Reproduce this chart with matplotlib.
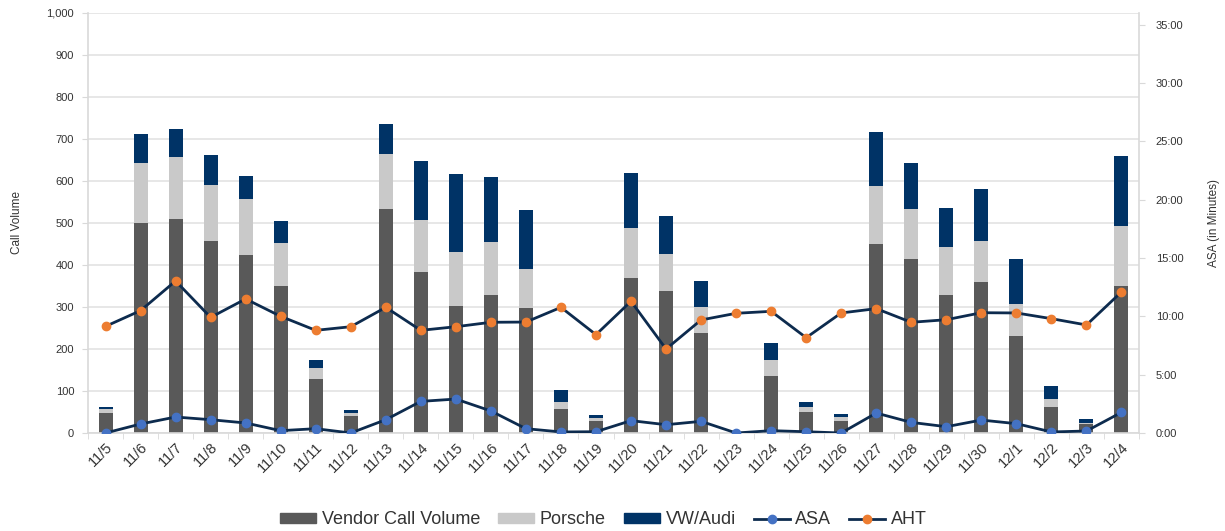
import matplotlib
matplotlib.use("Agg")
import matplotlib.pyplot as plt
import numpy as np
from matplotlib.ticker import FuncFormatter, MultipleLocator, FixedLocator
from matplotlib.lines import Line2D
from matplotlib.patches import Patch

plt.rcParams['font.family'] = ['Liberation Sans', 'DejaVu Sans']

dates = ["11/5", "11/6", "11/7", "11/8", "11/9", "11/10", "11/11", "11/12", "11/13", "11/14",
         "11/15", "11/16", "11/17", "11/18", "11/19", "11/20", "11/21", "11/22", "11/23", "11/24",
         "11/25", "11/26", "11/27", "11/28", "11/29", "11/30", "12/1", "12/2", "12/3", "12/4"]
vendor = [48, 500, 510, 458, 425, 351, 129, 40, 534, 383,
          303, 329, 298, 58, 28, 369, 337, 238, 0, 135,
          49, 29, 451, 415, 329, 359, 232, 63, 22, 351]
porsche = [9, 143, 147, 132, 131, 101, 26, 8, 130, 123,
           127, 125, 92, 17, 8, 119, 89, 61, 0, 38,
           13, 8, 136, 118, 115, 97, 75, 18, 3, 143]
vwaudi = [6, 69, 68, 73, 55, 52, 20, 6, 72, 142,
          186, 155, 142, 28, 6, 131, 91, 62, 0, 42,
          11, 8, 130, 110, 91, 125, 108, 32, 9, 165]
# minutes
asa = [0.0, 0.77, 1.37, 1.14, 0.86, 0.20, 0.37, 0.0, 1.14, 2.71,
       2.91, 1.89, 0.37, 0.09, 0.11, 1.06, 0.71, 1.00, 0.0, 0.20,
       0.11, 0.0, 1.71, 0.91, 0.54, 1.11, 0.80, 0.09, 0.17, 1.77]
aht = [9.14, 10.49, 13.03, 9.91, 11.49, 10.00, 8.80, 9.11, 10.77, 8.80,
       9.11, 9.49, 9.51, 10.77, 8.43, 11.29, 7.20, 9.69, 10.26, 10.43,
       8.17, 10.29, 10.66, 9.49, 9.71, 10.31, 10.29, 9.80, 9.26, 12.09]

c_vendor = '#595959'
c_porsche = '#c9c9c9'
c_vw = '#003366'
c_line = '#0d2b4e'
c_asa = '#4472c4'
c_aht = '#ed7d31'
grid_c = '#e3e3e3'
txt_c = '#333333'

fig = plt.figure(figsize=(12.25, 5.31), dpi=100)
ax = fig.add_axes([88/1225, (531-433)/531, (1139-88)/1225, 420/531])
x = np.arange(len(dates))
w = 0.4
v = np.array(vendor); p = np.array(porsche); a = np.array(vwaudi)
ax.bar(x, v, w, color=c_vendor, zorder=2)
ax.bar(x, p, w, bottom=v, color=c_porsche, zorder=2)
ax.bar(x, a, w, bottom=v + p, color=c_vw, zorder=2)

ax.set_xlim(-0.5, len(dates) - 0.5)
ax.set_ylim(0, 1000)
ax.yaxis.set_major_locator(MultipleLocator(100))
ax.yaxis.set_major_formatter(FuncFormatter(lambda val, pos: f"{int(val):,}"))
ax.grid(axis='y', color=grid_c, linewidth=1.2, zorder=0)
ax.set_axisbelow(True)
for s in ['top', 'right']:
    ax.spines[s].set_visible(False)
for s in ['left', 'bottom']:
    ax.spines[s].set_color('#d9d9d9')
    ax.spines[s].set_linewidth(1.2)
ax.set_xticks(x)
ax.set_xticklabels(dates, rotation=45, ha='right', rotation_mode='anchor', fontsize=10.5, color=txt_c)
ax.tick_params(axis='x', length=0, pad=5)
ax.xaxis.set_minor_locator(FixedLocator(np.arange(-0.5, len(dates), 1)))
ax.tick_params(axis='x', which='minor', length=4, color='#d9d9d9')
ax.tick_params(axis='y', length=4, color='#d9d9d9', labelsize=8, labelcolor=txt_c, pad=6)
ax.set_ylabel('Call Volume', fontsize=8.5, color=txt_c)
ax.yaxis.set_label_coords(-0.062, 0.5)

ax2 = ax.twinx()
ax2.set_ylim(0, 36)
ax2.yaxis.set_major_locator(MultipleLocator(5))
ax2.yaxis.set_major_formatter(FuncFormatter(lambda val, pos: f"{int(val)}:00"))
ax2.plot(x, asa, color=c_line, linewidth=2, marker='o', markersize=6,
         markerfacecolor=c_asa, markeredgecolor=c_asa, zorder=3)
ax2.plot(x, aht, color=c_line, linewidth=2, marker='o', markersize=6,
         markerfacecolor=c_aht, markeredgecolor=c_aht, zorder=3)
for s in ['top', 'left', 'bottom']:
    ax2.spines[s].set_visible(False)
ax2.spines['right'].set_color('#d9d9d9')
ax2.spines['right'].set_linewidth(1.2)
ax2.tick_params(axis='y', length=4, color='#d9d9d9', labelsize=8, labelcolor=txt_c, pad=8)
ax2.set_ylabel('ASA (in Minutes)', fontsize=8.5, color=txt_c)
ax2.yaxis.set_label_coords(1.066, 0.5)

handles = [Patch(color=c_vendor), Patch(color=c_porsche), Patch(color=c_vw),
           Line2D([], [], color=c_line, lw=2, marker='o', markersize=6, markerfacecolor=c_asa, markeredgecolor=c_asa),
           Line2D([], [], color=c_line, lw=2, marker='o', markersize=6, markerfacecolor=c_aht, markeredgecolor=c_aht)]
labels = ['Vendor Call Volume', 'Porsche', 'VW/Audi', 'ASA', 'AHT']
fig.legend(handles, labels, loc='center', bbox_to_anchor=(0.4927, 0.021), ncol=5, frameon=False,
           fontsize=13, handlelength=2.0, handleheight=0.45, columnspacing=1.0, handletextpad=0.3,
           labelcolor=txt_c, borderpad=0)

fig.savefig('out.png', dpi=100, facecolor='white')
